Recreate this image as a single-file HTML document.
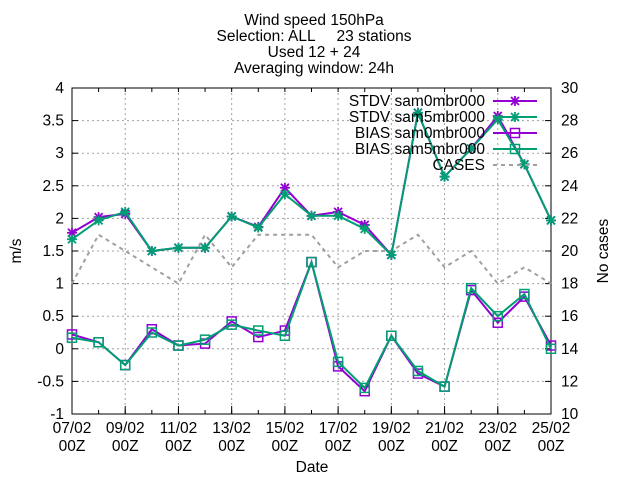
<!DOCTYPE html>
<html><head><meta charset="utf-8"><style>
body{margin:0;background:#fff}
svg text{font-family:"Liberation Sans",sans-serif;font-size:15.5px;fill:#000;white-space:pre}
</style></head><body>
<svg id="c" width="640" height="480">
<g>
<text x="314" y="25" text-anchor="middle">Wind speed 150hPa</text>
<text x="314" y="41" text-anchor="middle" xml:space="preserve">Selection: ALL     23 stations</text>
<text x="314" y="57" text-anchor="middle">Used 12 + 24</text>
<text x="314" y="73" text-anchor="middle">Averaging window: 24h</text>
</g>
<g id="grid"></g>
<g id="axes"></g>
<g id="series"></g>
<g id="legend"></g>
<text x="312" y="472" text-anchor="middle">Date</text>
<text transform="translate(21,251) rotate(-90)" text-anchor="middle">m/s</text>
<text transform="translate(608,251) rotate(-90)" text-anchor="middle">No cases</text>
</svg>
<script>
const days=[7,8,9,10,11,12,13,14,15,16,17,18,19,20,21,22,23,24,25];
const stdv0=[1.78,2.02,2.07,1.5,1.55,1.55,2.03,1.87,2.47,2.04,2.1,1.9,1.44,3.62,2.64,3.07,3.57,2.83,1.97];
const stdv5=[1.68,1.97,2.1,1.5,1.55,1.55,2.03,1.86,2.37,2.04,2.04,1.84,1.44,3.62,2.64,3.07,3.52,2.83,1.97];
const bias0=[0.22,0.1,-0.25,0.3,0.05,0.08,0.42,0.18,0.28,1.33,-0.27,-0.65,0.2,-0.38,-0.58,0.9,0.4,0.8,0.05];
const bias5=[0.17,0.1,-0.25,0.25,0.05,0.14,0.37,0.28,0.2,1.33,-0.2,-0.6,0.2,-0.34,-0.58,0.93,0.5,0.84,0.0];
const cases=[18,21,20,19,18,21,19,21,21,21,19,20,20,21,19,20,18,19,18];
const yTicks=[-1,-0.5,0,0.5,1,1.5,2,2.5,3,3.5,4];
const y2Ticks=[10,12,14,16,18,20,22,24,26,28,30];
const xTickDays=[7,9,11,13,15,17,19,21,23,25];
const L=72,R=551,T=88,B=414;
const X=d=>L+(d-7)/18*(R-L);
const Y=v=>B-(v+1)/5*(B-T);
const Y2=v=>B-(v-10)/20*(B-T);
const NS="http://www.w3.org/2000/svg";
function mk(tag,attrs,parent){const e=document.createElementNS(NS,tag);for(const k in attrs)e.setAttribute(k,attrs[k]);document.getElementById(parent).appendChild(e);return e;}
const fmt=v=>String(v);
yTicks.forEach(v=>{
 const y=Y(v);
 if(v>-1&&v<4){const g=mk('line',{x1:L,x2:R,y1:y,y2:y,stroke:'#a0a0a0','stroke-dasharray':'2,3'},'grid');
 
 }
 mk('line',{x1:L,x2:L+6,y1:y,y2:y,stroke:'#000'},'axes');
 const t=mk('text',{x:L-8,y:y+5,'text-anchor':'end'},'axes');t.textContent=fmt(v);
 
 
});
y2Ticks.forEach(v=>{
 const y=Y2(v);
 mk('line',{x1:R-6,x2:R,y1:y,y2:y,stroke:'#000'},'axes');
 const t=mk('text',{x:R+10,y:y+5},'axes');t.textContent=fmt(v);
 
 
});
days.forEach(d=>{const x=X(d);mk('line',{x1:x,x2:x,y1:B,y2:B-4,stroke:'#000'},'axes');mk('line',{x1:x,x2:x,y1:T,y2:T+4,stroke:'#000'},'axes');});
xTickDays.forEach(d=>{
 const x=X(d);
 if(d>7&&d<25){const g=mk('line',{x1:x,x2:x,y1:T,y2:B,stroke:'#a0a0a0','stroke-dasharray':'2,3'},'grid');
 
 }
 mk('line',{x1:x,x2:x,y1:B,y2:B-8,stroke:'#000'},'axes');
 const t=mk('text',{x:x,y:433,'text-anchor':'middle'},'axes');t.textContent=String(d).padStart(2,'0')+'/02';
 
 
 const t2=mk('text',{x:x,y:451,'text-anchor':'middle'},'axes');t2.textContent='00Z';
 
 
});
mk('rect',{x:L,y:T,width:R-L,height:B-T,fill:'none',stroke:'#000'},'axes');
function star(x,y,c,p){mk('path',{d:`M${x-5},${y}H${x+5}M${x},${y-5}V${y+5}M${x-4},${y-4}L${x+4},${y+4}M${x-4},${y+4}L${x+4},${y-4}`,stroke:c,'stroke-width':1.8,fill:'none'},p);}
function sq(x,y,c,p){mk('rect',{x:x-4.5,y:y-4.5,width:9,height:9,stroke:c,'stroke-width':1.5,fill:'none'},p);}
function series(vals,yf,c,mark,name,dash){
 const pts=vals.map((v,i)=>X(days[i])+','+yf(v)).join(' ');
 const pl=mk('polyline',{points:pts,fill:'none',stroke:c,'stroke-width':2,'stroke-dasharray':dash||'none'},'series');
 
 
 if(mark)vals.forEach((v,i)=>mark(X(days[i]),yf(v),c,'series'));
}
series(cases,Y2,'#a0a0a0',null,'cases-line','4,4');
series(stdv0,Y,'#9400d3',star,'stdv-sam0-line');
series(stdv5,Y,'#009e73',star,'stdv-sam5-line');
series(bias0,Y,'#9400d3',sq,'bias-sam0-line');
series(bias5,Y,'#009e73',sq,'bias-sam5-line');
const leg=[['STDV sam0mbr000','#9400d3',star,null],['STDV sam5mbr000','#009e73',star,null],['BIAS sam0mbr000','#9400d3',sq,null],['BIAS sam5mbr000','#009e73',sq,null],['CASES','#a0a0a0',null,'4,4']];
leg.forEach((l,i)=>{
 const y=101+i*16;
 const t=mk('text',{x:485,y:y+5,'text-anchor':'end'},'legend');t.textContent=l[0];
 
 
 mk('line',{x1:493,x2:537,y1:y,y2:y,stroke:l[1],'stroke-width':2,'stroke-dasharray':l[3]||'none'},'legend');
 if(l[2])l[2](515,y,l[1],'legend');
});
</script>
</body></html>
